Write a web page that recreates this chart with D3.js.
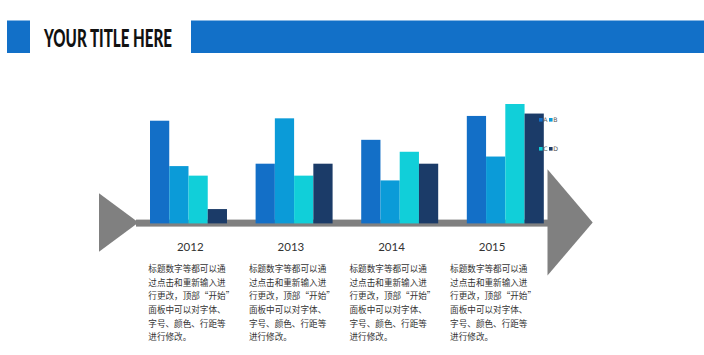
<!DOCTYPE html>
<html><head><meta charset="utf-8">
<script src="https://cdn.jsdelivr.net/npm/d3@7"></script>
<style>html,body{margin:0;padding:0;background:#fff;}svg{display:block;}</style>
</head><body>
<svg id="c" width="704" height="355"></svg>
<script>
const years = ["2012","2013","2014","2015"];
const seriesNames = ["A","B","C","D"];
const seriesA = [4.3, 2.5, 3.5, 4.5];
const seriesB = [2.4, 4.4, 1.8, 2.8];
const seriesC = [2.0, 2.0, 3.0, 5.0];
const seriesD = [0.6, 2.5, 2.5, 4.6];
const colors = ["#136fc7", "#0b9bd8", "#11cfd9", "#1b3b68"];
const titleText = "YOUR TITLE HERE";
const bodyLines = ["标题数字等都可以通","过点击和重新输入进","行更改，顶部“开始”","面板中可以对字体、","字号、颜色、行距等","进行修改。"];

const series = [seriesA, seriesB, seriesC, seriesD];
const svg = d3.select("#c");

// Title
svg.append("rect").attr("x",7).attr("y",20.5).attr("width",23).attr("height",32.5).attr("fill","#1270c8");
svg.append("rect").attr("x",191).attr("y",20.5).attr("width",513).attr("height",32.5).attr("fill","#1270c8");
svg.append("text").attr("x",44).attr("y",46.5).text(titleText)
  .attr("font-family","Lato, 'DejaVu Sans', sans-serif").attr("font-weight","900")
  .attr("font-size",24).attr("fill","#111").attr("textLength",128).attr("lengthAdjust","spacingAndGlyphs");

// Arrow
const grey = "#808080";
svg.append("path").attr("d","M99,193.3 L138.5,222.5 L99,251.7 Z").attr("fill",grey);
svg.append("rect").attr("x",136).attr("y",219.6).attr("width",414).attr("height",7).attr("fill",grey);
svg.append("path").attr("d","M547.5,169.3 L592.7,222.5 L547.5,275.5 Z").attr("fill",grey);

// Scales
const x0 = d3.scaleBand().domain(years).range([150, 543.8]).paddingInner(0.271).paddingOuter(0);
const x1 = d3.scaleBand().domain(seriesNames).range([0, x0.bandwidth()]).padding(0);
const y = d3.scaleLinear().domain([0,5]).range([223.4, 104]);

const g = svg.append("g");
years.forEach((yr, i) => {
  seriesNames.forEach((s, j) => {
    const v = series[j][i];
    g.append("rect")
      .attr("x", x0(yr) + x1(s))
      .attr("y", y(v))
      .attr("width", x1.bandwidth())
      .attr("height", y(0) - y(v))
      .attr("fill", colors[j]);
  });
});

// Legend
const legendPos = [[539,118],[549,118],[539,147],[549,147]];
seriesNames.forEach((s, j) => {
  const [lx, ly] = legendPos[j];
  svg.append("rect").attr("x",lx).attr("y",ly).attr("width",3.6).attr("height",3.6).attr("fill",colors[j]);
  svg.append("text").attr("x",lx+4.3).attr("y",ly+4.1).text(s)
    .attr("font-family","'DejaVu Sans', sans-serif").attr("font-size",6.2).attr("fill","#555");
});

// Text columns
const xt = d3.scaleBand().domain(years).range([148.3, 148.3 + 3*100.6 + 78]).paddingInner(22.6/100.6).paddingOuter(0);
years.forEach(yr => {
  svg.append("text").attr("x", xt(yr) + 42).attr("y", 251).attr("text-anchor","middle").text(yr)
    .attr("font-family","Lato, 'Open Sans', sans-serif").attr("font-size",11.5).attr("fill","#333");
  const t = svg.append("text").attr("font-family","'Noto Sans CJK SC', sans-serif")
    .attr("font-size",8.6).attr("fill","#333");
  bodyLines.forEach((ln, k) => {
    t.append("tspan").attr("x", xt(yr)).attr("y", 272 + k*13.65).text(ln);
  });
});
</script>
</body></html>
